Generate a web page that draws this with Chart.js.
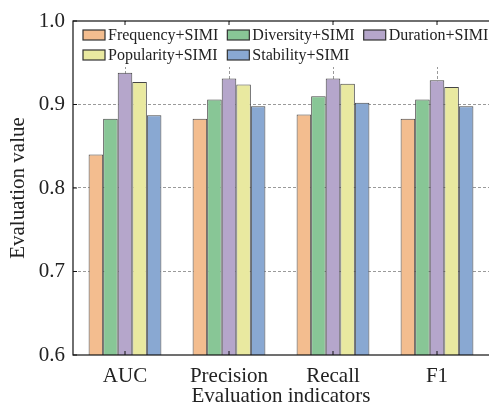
<!DOCTYPE html>
<html>
<head>
<meta charset="utf-8">
<script src="https://cdn.jsdelivr.net/npm/chart.js@4.4.0/dist/chart.umd.min.js"></script>
<style>
  html, body { margin: 0; padding: 0; background: #fff; }
  #wrap { width: 489px; height: 407px; }
</style>
</head>
<body>
<div id="wrap"><canvas id="chart" width="489" height="407"></canvas></div>
<script>
const indicators = ['AUC', 'Precision', 'Recall', 'F1'];
const seriesNames = ['Frequency+SIMI', 'Diversity+SIMI', 'Duration+SIMI', 'Popularity+SIMI', 'Stability+SIMI'];
const frequencyVals  = [0.840, 0.883, 0.888, 0.883];
const diversityVals  = [0.883, 0.906, 0.910, 0.906];
const durationVals   = [0.938, 0.931, 0.931, 0.929];
const popularityVals = [0.927, 0.924, 0.925, 0.921];
const stabilityVals  = [0.887, 0.898, 0.902, 0.898];
const yTicks = [0.6, 0.7, 0.8, 0.9, 1.0];

const SERIES_COLORS = ['#F3BD8F', '#88C696', '#B5A6CB', '#E9E9A0', '#89A8D2'];
const FONT = "'Liberation Serif', 'Times New Roman', serif";

var allValues = [frequencyVals, diversityVals, durationVals, popularityVals, stabilityVals];

var datasets = seriesNames.map(function(name, i) {
    return {
        label: name,
        data: allValues[i],
        backgroundColor: SERIES_COLORS[i],
        borderColor: '#454545',
        borderWidth: 1,
        borderSkipped: false,
        categoryPercentage: 0.7,
        barPercentage: 1.0
    };
});

// frame, inside tick marks and the legend (white box, 3 columns)
var framePlugin = {
    id: 'frame',
    afterDraw: function(chart) {
        var ctx = chart.ctx;
        var a = chart.chartArea;
        var xs = chart.scales.x, ys = chart.scales.y;

        // legend
        ctx.save();
        ctx.fillStyle = '#fff';
        ctx.fillRect(a.left + 1, a.top + 1, a.right - a.left - 2, 45);
        ctx.font = '16px ' + FONT;
        ctx.textBaseline = 'middle';
        var cols = 3, boxW = 22, boxH = 10, gap = 3, colGap = 9;
        var colX = [a.left + 10];
        for (var c = 0; c < cols - 1; c++) {
            var maxW = 0;
            for (var k = c; k < seriesNames.length; k += cols) {
                maxW = Math.max(maxW, ctx.measureText(seriesNames[k]).width);
            }
            colX.push(colX[c] + boxW + gap + maxW + colGap);
        }
        chart.data.datasets.forEach(function(ds, i) {
            var col = i % cols, row = Math.floor(i / cols);
            var x = colX[col], y = a.top + 14 + row * 20;
            ctx.fillStyle = ds.backgroundColor;
            ctx.fillRect(x, y - boxH / 2, boxW, boxH);
            ctx.strokeStyle = '#333';
            ctx.lineWidth = 1.2;
            ctx.strokeRect(x, y - boxH / 2, boxW, boxH);
            ctx.fillStyle = '#222';
            ctx.fillText(ds.label, x + boxW + gap, y + 1);
        });

        // frame
        ctx.strokeStyle = '#111';
        ctx.lineWidth = 1.2;
        ctx.strokeRect(a.left, a.top, a.right - a.left + 2, a.bottom - a.top);

        // inside ticks
        ctx.lineWidth = 1;
        ctx.beginPath();
        yTicks.forEach(function(v) {
            var py = ys.getPixelForValue(v);
            ctx.moveTo(a.left, py); ctx.lineTo(a.left + 4, py);
        });
        indicators.forEach(function(lbl, i) {
            var px = xs.getPixelForValue(i);
            ctx.moveTo(px, a.bottom); ctx.lineTo(px, a.bottom - 4);
            ctx.moveTo(px, a.top); ctx.lineTo(px, a.top + 4);
        });
        ctx.stroke();
        ctx.restore();
    }
};

var chart = new Chart(document.getElementById('chart').getContext('2d'), {
    type: 'bar',
    data: { labels: indicators, datasets: datasets },
    options: {
        responsive: false,
        devicePixelRatio: 1,
        animation: false,
        layout: { padding: { top: 21, right: 0, left: 0, bottom: 0 } },
        plugins: {
            legend: { display: false },
            tooltip: { enabled: false }
        },
        scales: {
            x: {
                offset: true,
                grid: {
                    offset: false,
                    color: '#9a9a9a',
                    lineWidth: 1,
                    drawTicks: false
                },
                border: { display: false, dash: [3, 2] },
                ticks: { font: { family: FONT, size: 21 }, color: '#222', padding: 9 },
                title: {
                    display: true,
                    text: 'Evaluation indicators',
                    font: { family: FONT, size: 21, lineHeight: 1 },
                    color: '#222',
                    padding: { top: 0, bottom: 0 }
                },
                afterFit: function(scale) { scale.height = 52; }
            },
            y: {
                min: 0.6,
                max: 1.0,
                afterBuildTicks: function(scale) {
                    scale.ticks = yTicks.map(function(v) { return { value: v }; });
                },
                grid: {
                    color: function(c) {
                        var v = c.tick ? c.tick.value : 0;
                        return (Math.abs(v - 0.6) < 1e-6 || Math.abs(v - 1.0) < 1e-6) ? 'rgba(0,0,0,0)' : '#9a9a9a';
                    },
                    lineWidth: 1,
                    drawTicks: false
                },
                border: { display: false, dash: [3, 2] },
                ticks: {
                    font: { family: FONT, size: 21 },
                    color: '#222',
                    padding: 8,
                    callback: function(v) { return Number(v).toFixed(1); }
                },
                title: {
                    display: true,
                    text: 'Evaluation value',
                    font: { family: FONT, size: 21 },
                    color: '#222',
                    padding: { top: 6, bottom: 0 }
                },
                afterFit: function(scale) { scale.width = 73; }
            }
        }
    },
    plugins: [framePlugin]
});
</script>
</body>
</html>
